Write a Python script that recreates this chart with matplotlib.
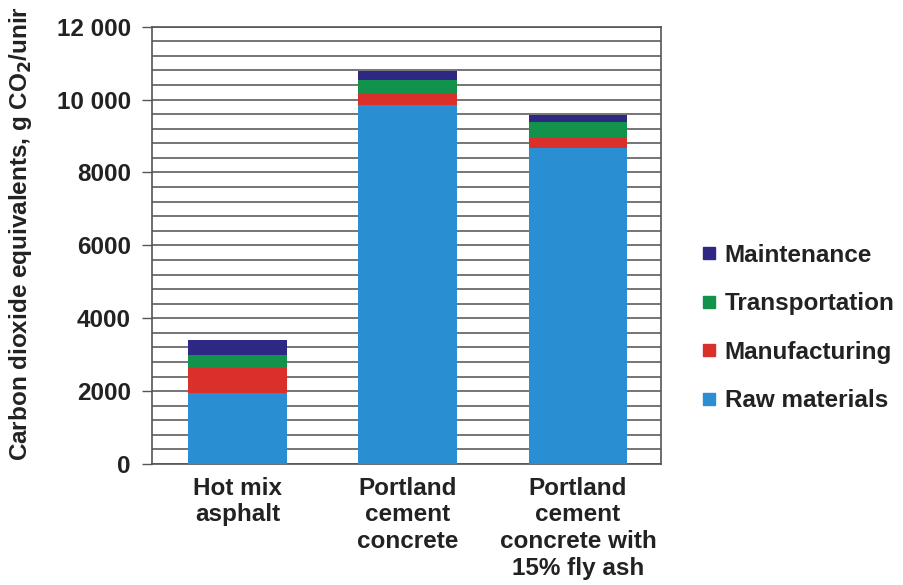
import matplotlib
matplotlib.use("Agg")
import matplotlib.pyplot as plt
from matplotlib.lines import Line2D
import numpy as np

plt.rcParams['font.family'] = ['Liberation Sans', 'DejaVu Sans']
plt.rcParams['font.weight'] = 'bold'

categories = ["Hot mix\nasphalt", "Portland\ncement\nconcrete", "Portland\ncement\nconcrete with\n15% fly ash"]
series_names = ["Raw materials", "Manufacturing", "Transportation", "Maintenance"]
raw_materials = [1940, 9860, 8670]
manufacturing = [690, 300, 275]
transportation = [370, 385, 430]
maintenance = [410, 230, 190]
series_values = [raw_materials, manufacturing, transportation, maintenance]
colors = ["#2A8FD2", "#D9302B", "#12924A", "#2E2783"]

y_ticks = [0, 2000, 4000, 6000, 8000, 10000, 12000]
y_tick_labels = ["0", "2000", "4000", "6000", "8000", "10 000", "12 000"]
grid_step = 400

txt = "#222222"
FS = 17.5

fig = plt.figure(figsize=(9.04, 5.85), dpi=100)
ax = fig.add_axes([0.1678, 0.2068, 0.5631, 0.7476])

x = np.arange(len(categories))
bottom = np.zeros(len(categories))
for name, vals, c in zip(series_names, series_values, colors):
    ax.bar(x, vals, width=0.58, bottom=bottom, color=c, label=name, zorder=3)
    bottom += np.array(vals)

ax.set_xlim(-0.505, 2.486)
ax.set_ylim(0, 12000)
ax.set_yticks(np.arange(0, 12000 + 1, grid_step), minor=True)
ax.set_yticks(y_ticks)
ax.set_yticklabels(y_tick_labels, fontsize=FS, fontweight='bold', color=txt)
ax.yaxis.grid(True, which='both', color='#6a6a6a', linewidth=1.3, zorder=0)
ax.set_axisbelow(True)
ax.tick_params(axis='y', which='major', direction='out', length=7, width=1.0, color='#555555', pad=8)
ax.tick_params(axis='y', which='minor', length=0)
ax.set_xticks(x)
ax.set_xticklabels(categories, fontsize=FS, fontweight='bold', color=txt, linespacing=1.22)
ax.tick_params(axis='x', length=0, pad=9)
for s in ax.spines.values():
    s.set_color('#555555')
    s.set_linewidth(1.2)

ax.set_ylabel("Carbon dioxide equivalents, g CO$_\\mathbf{2}$/unir", fontsize=17.5, fontweight='bold', color=txt)
ax.yaxis.set_label_coords(-0.232, 0.528)

handles = [Line2D([], [], marker='s', linestyle='', markersize=9, color=c) for c in colors]
leg = fig.legend(handles[::-1], series_names[::-1], loc='center left',
                 bbox_to_anchor=(0.776, 0.439), frameon=False, fontsize=FS,
                 handlelength=0.6, handletextpad=0.35, labelspacing=1.05,
                 borderpad=0, borderaxespad=0)
for t in leg.get_texts():
    t.set_fontweight('bold')
    t.set_color(txt)

fig.savefig("out.png", dpi=100)
